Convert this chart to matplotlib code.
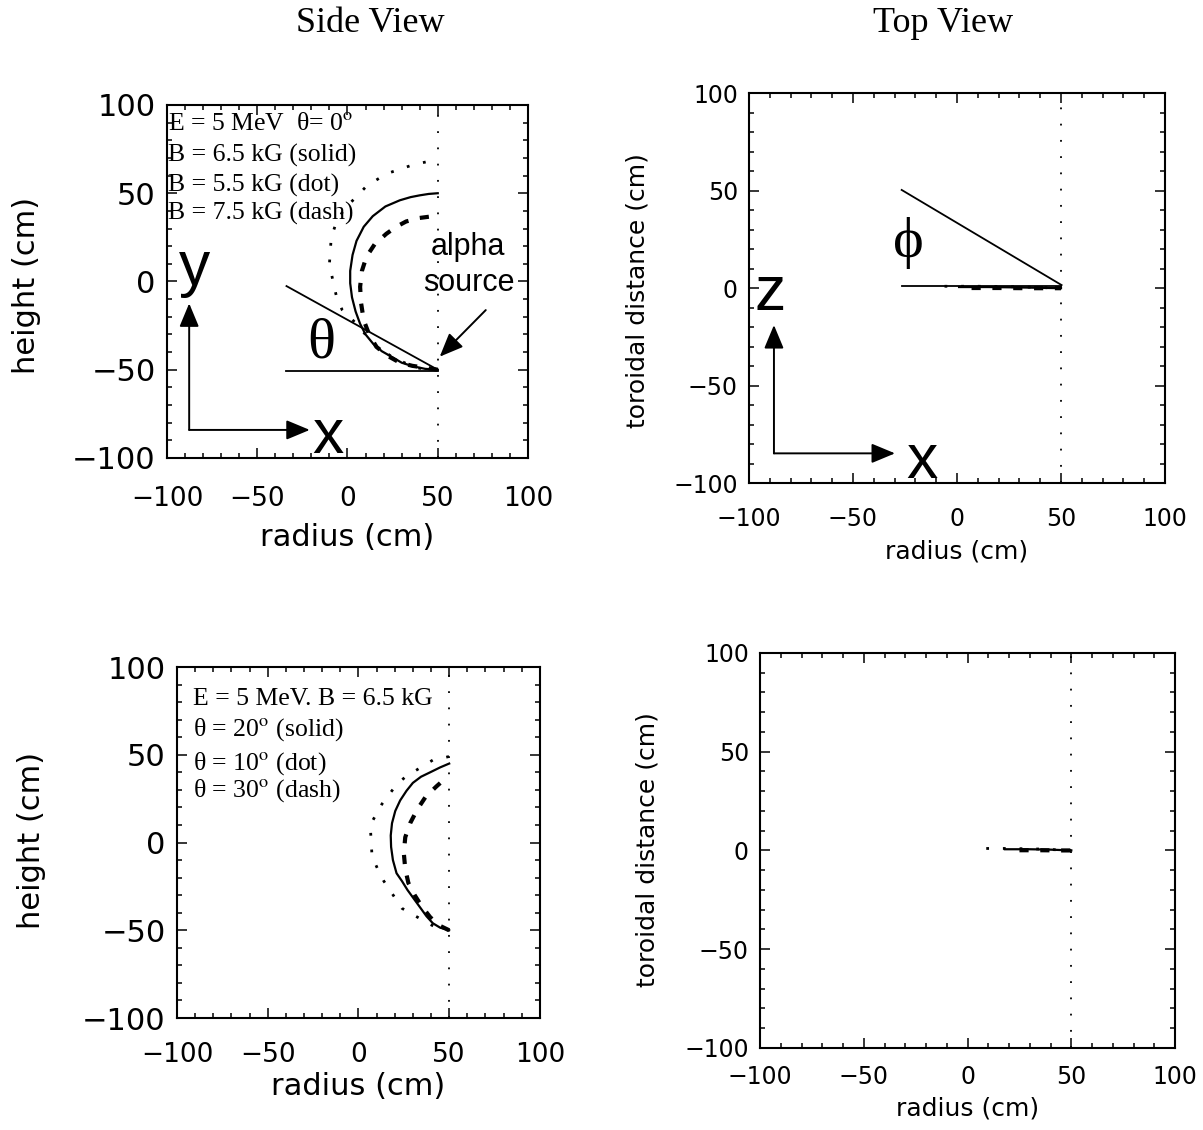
import matplotlib.pyplot as plt
from matplotlib.ticker import MultipleLocator

plt.rcParams['font.family'] = ['DejaVu Sans']
plt.rcParams['mathtext.fontset'] = 'stix'

# Side view, theta = 0 deg (B = 6.5 / 5.5 / 7.5 kG)
sv0_solid_r = [50, 43, 36, 30, 25, 19, 14, 10, 7, 4.5, 2.5, 1.5, 1.5, 2.8, 5, 9, 14, 21, 29, 35, 40, 45, 50]
sv0_solid_h = [-50, -49.5, -48, -46, -43, -39.5, -35, -30, -24, -17, -9, -1, 6, 15, 23, 31, 37, 42.5, 46, 47.8, 48.8, 49.6, 50]
sv0_dot_r = [50, 38, 25, 14, 5, -3, -6, -8, -10, -9, -7, -2, 5, 10.5, 21.5, 36, 49]
sv0_dot_h = [-50, -49, -43, -35, -24, -16, -9, 0, 10, 25, 31, 41, 48, 54, 61, 66, 69]
sv0_dash_r = [50, 44, 36, 29, 22, 16, 12, 9, 7.5, 7, 8, 10.5, 15, 21.5, 27, 32.5, 40, 47.5]
sv0_dash_h = [-50, -49, -47.8, -46, -42, -37, -30, -22, -12, -3, 6, 14, 21, 27, 31, 34, 36, 37]

# Top view, theta = 0 deg
tv0_solid_r = [1, 15, 30, 50]
tv0_solid_z = [0.6, 0.6, 0.4, 0.0]
tv0_dot_r = [-6, 10, 30, 50]
tv0_dot_z = [1.0, 1.0, 0.7, 0.0]
tv0_dash_r = [7, 20, 35, 50]
tv0_dash_z = [0.1, 0.1, 0.0, 0.0]

# Side view, B = 6.5 kG (theta = 20 / 10 / 30 deg)
sv1_solid_r = [50, 45, 41, 37.5, 34, 30.5, 27, 24, 21, 19, 18, 17.8, 18.5, 20.3, 23, 26.5, 30, 34.5, 39.5, 45, 50]
sv1_solid_h = [-50, -48.5, -46, -42, -37, -32, -27, -22, -17.5, -10, -2.5, 4, 11, 18, 24, 29.5, 34, 37.5, 40, 42.8, 45]
sv1_dot_r = [50, 42, 35, 24, 14, 11, 7.5, 6.5, 13, 21, 26, 41, 50]
sv1_dot_h = [-50, -48, -44, -37.5, -22, -16, -8, 10, 22, 33, 37.5, 47, 49]
sv1_dash_r = [50, 44, 39.5, 35, 31, 27.5, 25.8, 25, 25.8, 28.5, 32.5, 37, 43, 49]
sv1_dash_h = [-50, -47, -42.5, -36.5, -30, -23, -15, -6, 3, 11, 19, 26, 32, 37.5]

# Top view, B = 6.5 kG
tv1_solid_r = [18, 30, 40, 50]
tv1_solid_z = [0.6, 0.6, 0.4, 0.0]
tv1_dot_r = [9, 20, 35, 50]
tv1_dot_z = [1.0, 1.0, 0.7, 0.0]
tv1_dash_r = [25, 35, 45, 50]
tv1_dash_z = [0.1, 0.1, 0.0, 0.0]

major_ticks = [-100, -50, 0, 50, 100]
source_r = 50

SOLID = dict(color='k', lw=1.6, ls='-')
DOT = dict(color='k', lw=2.0, ls=(0, (1, 5)))
DASH = dict(color='k', lw=3.0, ls=(0, (2.2, 2.8)))

fig = plt.figure(figsize=(12.03, 11.30), dpi=100)


def setup(ax, xt_size, yt_size, xpad, ypad, lab_size, xlabel, ylabel, ylab_xy, xlab_xy):
    ax.set_xlim(-100, 100)
    ax.set_ylim(-100, 100)
    ax.set_xticks(major_ticks)
    ax.set_yticks(major_ticks)
    ax.xaxis.set_minor_locator(MultipleLocator(10))
    ax.yaxis.set_minor_locator(MultipleLocator(10))
    ax.tick_params(which='both', direction='in', top=True, right=True, width=1.1)
    ax.tick_params(which='major', length=7)
    ax.tick_params(which='minor', length=3.5)
    ax.tick_params(axis='x', labelsize=xt_size, pad=xpad)
    ax.tick_params(axis='y', labelsize=yt_size, pad=ypad)
    for s in ax.spines.values():
        s.set_linewidth(1.5)
    ax.set_xlabel(xlabel, fontsize=lab_size, va='center')
    ax.set_ylabel(ylabel, fontsize=lab_size, va='center')
    ax.xaxis.set_label_coords(*xlab_xy)
    ax.yaxis.set_label_coords(*ylab_xy)
    ax.axvline(source_r, color='k', lw=1.3, ls=(0, (1, 8)))


def arrow(ax, tip, tail):
    ax.annotate('', xy=tip, xytext=tail,
                arrowprops=dict(arrowstyle='-|>,head_length=0.6,head_width=0.25',
                                color='k', lw=1.4, mutation_scale=24,
                                shrinkA=0, shrinkB=0))


big = dict(family=['Liberation Sans'], fontsize=45, ha='center', va='baseline')
greek = dict(family=['Liberation Serif', 'DejaVu Serif'], fontsize=42, ha='center', va='center')
note = dict(family=['Liberation Serif'], fontsize=18.5, ha='left', va='baseline')
src = dict(family=['Liberation Sans'], fontsize=22, ha='center', va='center')

# ---- top left: side view
ax1 = fig.add_axes([0.1388, 0.5947, 0.3001, 0.3124])
setup(ax1, 19, 22, 20, 8, 22, 'radius (cm)', 'height (cm)', (-0.388, 0.49), (0.498, -0.225))
ax1.plot(sv0_solid_r, sv0_solid_h, **SOLID)
ax1.plot(sv0_dot_r, sv0_dot_h, **DOT)
ax1.plot(sv0_dash_r, sv0_dash_h, **DASH)
ax1.plot([-33.8, 50], [-2.6, -50], color='k', lw=1.3)
ax1.plot([-33.8, 50], [-50.8, -50.8], color='k', lw=1.3)
ax1.text(-14.4, -35.4, 'θ', **greek)
ax1.text(-84.5, -2, 'y', **big)
ax1.text(-10.7, -97.3, 'x', **big)
arrow(ax1, (-87.7, -12.4), (-87.7, -84.1))
arrow(ax1, (-20.9, -84.1), (-87.7, -84.1))
ax1.text(67, 19.5, 'alpha', **src)
ax1.text(67, -0.8, 'source', **src)
arrow(ax1, (51.1, -42.6), (76.6, -16.2))
ax1.text(0.003, 0.929, 'E = 5 MeV  θ= 0$^{\\rm o}$', transform=ax1.transAxes, **note)
ax1.text(0.003, 0.839, 'B = 6.5 kG (solid)', transform=ax1.transAxes, **note)
ax1.text(0.003, 0.754, 'B = 5.5 kG (dot)', transform=ax1.transAxes, **note)
ax1.text(0.003, 0.674, 'B = 7.5 kG (dash)', transform=ax1.transAxes, **note)

# ---- top right: top view
ax2 = fig.add_axes([0.6226, 0.5724, 0.3458, 0.3451])
setup(ax2, 17, 17, 17, 8, 18, 'radius (cm)', 'toroidal distance (cm)', (-0.269, 0.495), (0.5, -0.176))
ax2.plot(tv0_solid_r, tv0_solid_z, **SOLID)
ax2.plot(tv0_dot_r, tv0_dot_z, **DOT)
ax2.plot(tv0_dash_r, tv0_dash_z, **DASH)
ax2.plot([-26.6, 50.3], [50.4, 1.6], color='k', lw=1.3)
ax2.plot([-26.6, 50], [1.1, 1.1], color='k', lw=1.3)
ax2.text(-23.4, 23, 'ϕ', **greek)
ax2.text(-89.9, -11.2, 'z', **big)
ax2.text(-17, -97.5, 'x', **big)
arrow(ax2, (-88, -18.9), (-88, -84.7))
arrow(ax2, (-29.8, -84.7), (-88, -84.7))

# ---- bottom left: side view
ax3 = fig.add_axes([0.1471, 0.0991, 0.3017, 0.3106])
setup(ax3, 19, 22, 17, 8, 22, 'radius (cm)', 'height (cm)', (-0.40, 0.507), (0.498, -0.195))
ax3.plot(sv1_solid_r, sv1_solid_h, **SOLID)
ax3.plot(sv1_dot_r, sv1_dot_h, **DOT)
ax3.plot(sv1_dash_r, sv1_dash_h, **DASH)
ax3.text(0.043, 0.892, 'E = 5 MeV. B = 6.5 kG', transform=ax3.transAxes, **note)
ax3.text(0.043, 0.806, 'θ = 20$^{\\rm o}$ (solid)', transform=ax3.transAxes, **note)
ax3.text(0.043, 0.707, 'θ = 10$^{\\rm o}$ (dot)', transform=ax3.transAxes, **note)
ax3.text(0.043, 0.630, 'θ = 30$^{\\rm o}$ (dash)', transform=ax3.transAxes, **note)

# ---- bottom right: top view
ax4 = fig.add_axes([0.6318, 0.0726, 0.345, 0.3496])
setup(ax4, 17, 17, 12, 8, 18, 'radius (cm)', 'toroidal distance (cm)', (-0.27, 0.501), (0.5, -0.152))
ax4.plot(tv1_solid_r, tv1_solid_z, **SOLID)
ax4.plot(tv1_dot_r, tv1_dot_z, **DOT)
ax4.plot(tv1_dash_r, tv1_dash_z, **DASH)

fig.text(0.3076, 0.972, 'Side View', family=['Liberation Serif'], fontsize=26, ha='center', va='baseline')
fig.text(0.7839, 0.972, 'Top View', family=['Liberation Serif'], fontsize=26, ha='center', va='baseline')

fig.savefig('out.png', dpi=100)
